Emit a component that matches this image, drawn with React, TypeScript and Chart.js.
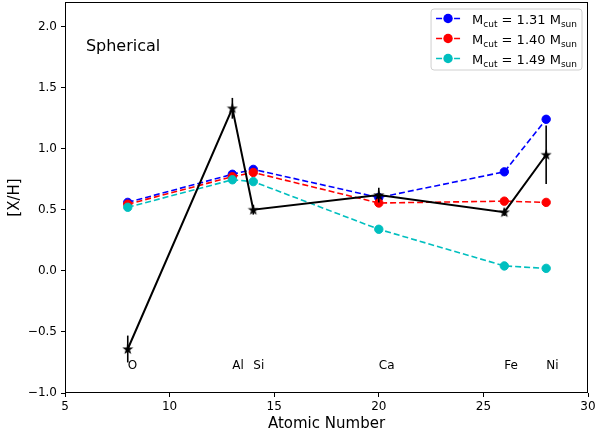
import React, { useEffect, useRef } from "react";
import { Chart, registerables } from "chart.js";

Chart.register(...registerables);

// ---- data ----
const atomicNumbers = [8, 13, 14, 20, 26, 28];
const elementNames = ["O", "Al", "Si", "Ca", "Fe", "Ni"];
const mcut131 = [0.56, 0.79, 0.83, 0.6, 0.81, 1.24];
const mcut140 = [0.545, 0.77, 0.805, 0.555, 0.57, 0.56];
const mcut149 = [0.52, 0.745, 0.73, 0.34, 0.04, 0.02];
const observed = [-0.64, 1.33, 0.5, 0.62, 0.48, 0.95];
const observedErr = [0.11, 0.085, 0.04, 0.06, 0.03, 0.24];
const legendMasses = ["1.31", "1.40", "1.49"];
const seriesColors = ["#0000ff", "#ff0000", "#00bfbf"];
const elementLabelY = -0.8;
const panelTitle = "Spherical";
const panelTitleX = 6;
const panelTitleY = 1.8;
const xMin = 5;
const xMax = 30;
const xStep = 5;
const yMin = -1.0;
const yMax = 2.2;
const yStep = 0.5;

const FONT = "'DejaVu Sans', sans-serif";

function makeStar(): HTMLCanvasElement {
  const c = document.createElement("canvas");
  const s = 12;
  c.width = s;
  c.height = s;
  const ctx = c.getContext("2d")!;
  const cx = s / 2;
  const cy = s / 2 + 0.4;
  const ro = 5.8;
  const ri = 2.3;
  ctx.beginPath();
  for (let i = 0; i < 10; i++) {
    const r = i % 2 === 0 ? ro : ri;
    const a = -Math.PI / 2 + (i * Math.PI) / 5;
    const px = cx + r * Math.cos(a);
    const py = cy + r * Math.sin(a);
    if (i === 0) ctx.moveTo(px, py);
    else ctx.lineTo(px, py);
  }
  ctx.closePath();
  ctx.fillStyle = "#000";
  ctx.fill();
  return c;
}

const toPts = (ys: number[]) => atomicNumbers.map((x, i) => ({ x, y: ys[i] }));

const annotationPlugin = {
  id: "annotations",
  afterDatasetsDraw(chart: any) {
    const { ctx, scales } = chart;
    const xs = scales.x;
    const ys = scales.y;
    ctx.save();
    // error bars
    ctx.strokeStyle = "#000";
    ctx.lineWidth = 1.6;
    atomicNumbers.forEach((x, i) => {
      const px = xs.getPixelForValue(x);
      const y1 = ys.getPixelForValue(observed[i] - observedErr[i]);
      const y2 = ys.getPixelForValue(observed[i] + observedErr[i]);
      ctx.beginPath();
      ctx.moveTo(px, y1);
      ctx.lineTo(px, y2);
      ctx.stroke();
    });
    // element labels
    ctx.fillStyle = "#000";
    ctx.font = `12px ${FONT}`;
    ctx.textAlign = "left";
    ctx.textBaseline = "alphabetic";
    atomicNumbers.forEach((x, i) => {
      ctx.fillText(elementNames[i], xs.getPixelForValue(x), ys.getPixelForValue(elementLabelY));
    });
    // panel title
    ctx.font = `16px ${FONT}`;
    ctx.fillText(panelTitle, xs.getPixelForValue(panelTitleX), ys.getPixelForValue(panelTitleY));
    ctx.restore();
  },
  afterDraw(chart: any) {
    const { ctx, chartArea } = chart;
    ctx.save();
    // frame
    ctx.strokeStyle = "#000";
    ctx.lineWidth = 1;
    ctx.strokeRect(
      Math.round(chartArea.left) + 0.5,
      Math.round(chartArea.top) + 0.5,
      Math.round(chartArea.right - chartArea.left) - 1,
      Math.round(chartArea.bottom - chartArea.top) - 1
    );
    // legend
    const big = `13px ${FONT}`;
    const small = `9px ${FONT}`;
    const rows = legendMasses.map((m) => [
      { t: "M", f: big, dy: 0 },
      { t: "cut", f: small, dy: 2.5 },
      { t: ` = ${m} M`, f: big, dy: 0 },
      { t: "sun", f: small, dy: 2.5 },
    ]);
    let textW = 0;
    rows.forEach((r) => {
      let w = 0;
      r.forEach((p) => {
        ctx.font = p.f;
        w += ctx.measureText(p.t).width;
      });
      textW = Math.max(textW, w);
    });
    const padL = 5;
    const handle = 24;
    const gap = 12;
    const padR = 5;
    const boxW = padL + handle + gap + textW + padR;
    const boxH = 61;
    const right = chartArea.right - 6;
    const left = right - boxW;
    const top = chartArea.top + 7;
    ctx.beginPath();
    const rr = 3;
    ctx.moveTo(left + rr, top);
    ctx.lineTo(left + boxW - rr, top);
    ctx.arcTo(left + boxW, top, left + boxW, top + rr, rr);
    ctx.lineTo(left + boxW, top + boxH - rr);
    ctx.arcTo(left + boxW, top + boxH, left + boxW - rr, top + boxH, rr);
    ctx.lineTo(left + rr, top + boxH);
    ctx.arcTo(left, top + boxH, left, top + boxH - rr, rr);
    ctx.lineTo(left, top + rr);
    ctx.arcTo(left, top, left + rr, top, rr);
    ctx.closePath();
    ctx.fillStyle = "rgba(255,255,255,0.8)";
    ctx.fill();
    ctx.strokeStyle = "#d0d0d0";
    ctx.lineWidth = 1;
    ctx.stroke();
    rows.forEach((r, i) => {
      const cy = top + 9.5 + 20 * i;
      const color = seriesColors[i];
      const hx = left + padL;
      ctx.strokeStyle = color;
      ctx.lineWidth = 1.6;
      ctx.setLineDash([6, 3]);
      ctx.beginPath();
      ctx.moveTo(hx, cy);
      ctx.lineTo(hx + handle, cy);
      ctx.stroke();
      ctx.setLineDash([]);
      ctx.fillStyle = color;
      ctx.beginPath();
      ctx.arc(hx + handle / 2, cy, 4.7, 0, Math.PI * 2);
      ctx.fill();
      let tx = hx + handle + gap;
      ctx.fillStyle = "#000";
      ctx.textAlign = "left";
      ctx.textBaseline = "alphabetic";
      r.forEach((p) => {
        ctx.font = p.f;
        ctx.fillText(p.t, tx, cy + 5.5 + p.dy);
        tx += ctx.measureText(p.t).width;
      });
    });
    ctx.restore();
  },
};

export default function App() {
  const ref = useRef<HTMLCanvasElement | null>(null);
  useEffect(() => {
    if (!ref.current) return;
    const star = makeStar();
    const circleSet = (label: string, ys: number[], color: string, order: number) => ({
      label,
      data: toPts(ys),
      borderColor: color,
      backgroundColor: color,
      pointBackgroundColor: color,
      pointBorderColor: color,
      pointBorderWidth: 1,
      pointRadius: 4.2,
      borderWidth: 1.6,
      borderDash: [6, 3],
      tension: 0,
      fill: false,
      order,
    });
    const chart = new Chart(ref.current, {
      type: "line",
      data: {
        datasets: [
          {
            label: "Observed",
            data: toPts(observed),
            borderColor: "#000",
            backgroundColor: "#000",
            borderWidth: 2,
            pointStyle: star as any,
            pointRadius: 5,
            tension: 0,
            fill: false,
            order: 0,
          },
          circleSet("Mcut = 1.49 Msun", mcut149, seriesColors[2], 1),
          circleSet("Mcut = 1.40 Msun", mcut140, seriesColors[1], 2),
          circleSet("Mcut = 1.31 Msun", mcut131, seriesColors[0], 3),
        ] as any,
      },
      options: {
        animation: false,
        responsive: false,
        devicePixelRatio: 1,
        layout: { autoPadding: false, padding: { top: 2, right: 9, left: 0, bottom: 0 } },
        plugins: { legend: { display: false }, tooltip: { enabled: false } },
        scales: {
          x: {
            type: "linear",
            min: xMin,
            max: xMax,
            ticks: {
              stepSize: xStep,
              includeBounds: false,
              color: "#000",
              font: { family: FONT, size: 12 },
              padding: 3,
              maxRotation: 0,
              callback: (v: any) => String(v),
            },
            grid: { drawOnChartArea: false, tickLength: 4, color: "#000", lineWidth: 1 },
            border: { display: false },
            title: {
              display: true,
              text: "Atomic Number",
              color: "#000",
              font: { family: FONT, size: 15 },
              padding: { top: 0, bottom: 6 },
            },
            afterFit: (s: any) => {
              s.height = 46;
              s.paddingLeft = 0;
              s.paddingRight = 0;
            },
          },
          y: {
            type: "linear",
            min: yMin,
            max: yMax,
            ticks: {
              stepSize: yStep,
              includeBounds: false,
              color: "#000",
              font: { family: FONT, size: 12 },
              padding: 4,
              callback: (v: any) => Number(v).toFixed(1).replace("-", "\u2212"),
            },
            grid: { drawOnChartArea: false, tickLength: 4, color: "#000", lineWidth: 1 },
            border: { display: false },
            title: {
              display: true,
              text: "[X/H]",
              color: "#000",
              font: { family: FONT, size: 15 },
              padding: { top: 6, bottom: 0 },
            },
            afterFit: (s: any) => {
              s.width = 65;
              s.paddingTop = 0;
              s.paddingBottom = 0;
            },
          },
        },
      } as any,
      plugins: [annotationPlugin],
    });
    return () => chart.destroy();
  }, []);
  return (
    <div style={{ position: "absolute", left: 0, top: 0, width: 597, height: 439, background: "#fff" }}>
      <canvas ref={ref} width={597} height={439} style={{ display: "block" }} />
    </div>
  );
}
